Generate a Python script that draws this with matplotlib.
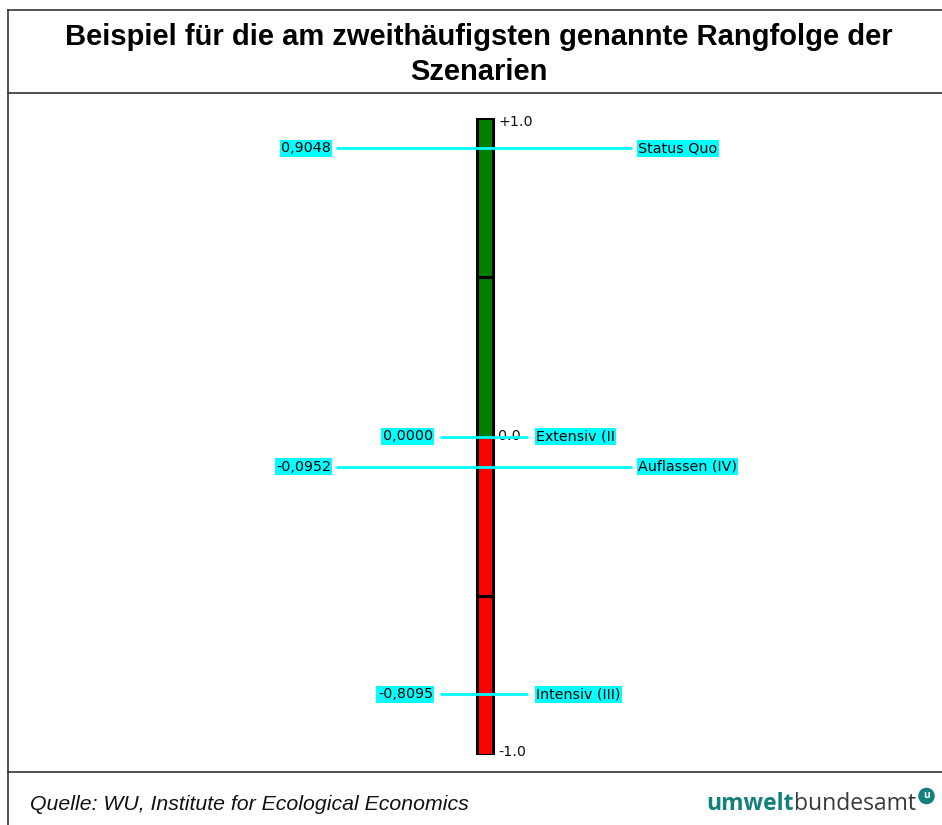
import matplotlib
matplotlib.use("Agg")
import matplotlib.pyplot as plt
from matplotlib.transforms import IdentityTransform

# ---- data ----
title = "Beispiel für die am zweithäufigsten genannte Rangfolge der\nSzenarien"
scenarios = ["Status Quo", "Extensiv (II", "Auflassen (IV)", "Intensiv (III)"]
values = [0.9048, 0.0000, -0.0952, -0.8095]
value_labels = ["0,9048", "0,0000", "-0,0952", "-0,8095"]
scale_ticks = [1.0, 0.0, -1.0]
scale_labels = ["+1.0", "0.0", "-1.0"]
segment_bounds = [-1.0, -0.5, 0.0, 0.5, 1.0]
segment_colors = ["#ff0000", "#ff0000", "#007f00", "#007f00"]
source = "Quelle: WU, Institute for Ecological Economics"

W, H = 942, 825
fig = plt.figure(figsize=(W / 100, H / 100), dpi=100)
fig.patch.set_facecolor("white")

# decoration axes in pixel coordinates
deco = fig.add_axes([0, 0, 1, 1])
deco.set_xlim(0, W)
deco.set_ylim(H, 0)
deco.axis("off")
lc = "#333333"
deco.plot([7.5, W], [9.5, 9.5], color=lc, lw=1.2)
deco.plot([7.5, W], [92.5, 92.5], color=lc, lw=1.2)
deco.plot([7.5, W], [771.5, 771.5], color=lc, lw=1.2)
deco.plot([7.5, 7.5], [9.5, H], color=lc, lw=1.2)

deco.text(479, 54.5, title, ha="center", va="center", fontsize=21,
          fontweight="bold", family="Liberation Sans", linespacing=1.32)
deco.text(30, 805, source, ha="left", va="center", fontsize=15.3,
          style="italic", family="Liberation Sans", color="#111111")

teal = "#13807d"
t1 = deco.text(706, 804, "umwelt", ha="left", va="center", fontsize=16.5,
               fontweight="bold", family="Open Sans", color=teal)
fig.canvas.draw()
bb = t1.get_window_extent()
t2 = deco.text(0, 0, "bundesamt", ha="left", va="center", fontsize=16.5,
               family="Open Sans", color="#3a3a3a", transform=IdentityTransform())
t2.set_position((bb.x1, bb.y0 + bb.height / 2))
fig.canvas.draw()
bb2 = t2.get_window_extent()
deco.text(bb2.x1 + 11, H - 796, "u", ha="center", va="center", fontsize=7.5,
          fontweight="bold", family="Open Sans", color="white",
          transform=IdentityTransform(),
          bbox=dict(boxstyle="circle,pad=0.2", fc=teal, ec=teal))

# chart axes: y from -1 (px 755) to +1 (px 118)
ax = fig.add_axes([0, (H - 755) / H, 1, (755 - 118) / H])
ax.set_xlim(0, W)
ax.set_ylim(-1, 1)
ax.axis("off")

for i, c in enumerate(segment_colors):
    ax.bar(485, segment_bounds[i + 1] - segment_bounds[i], bottom=segment_bounds[i],
           width=16.5, color=c, edgecolor="black", linewidth=2.2, zorder=2)

for v, lab in zip(scale_ticks, scale_labels):
    off = -0.013 if v > 0 else (0.01 if v < 0 else 0)
    ax.text(498, v + off, lab, ha="left", va="center", fontsize=10.3,
            family="DejaVu Sans", color="#111111", zorder=3)

cyan = "#00ffff"
box = dict(boxstyle="square,pad=0.1", fc=cyan, ec="none")
for i, (name, v, vl) in enumerate(zip(scenarios, values, value_labels)):
    if i % 2 == 0:
        x0, x1, lx, rx = 336, 632, 331, 638
    else:
        x0, x1, lx, rx = 440, 528, 433, 536
    ax.plot([x0, x1], [v, v], color=cyan, lw=2, zorder=4, solid_capstyle="butt")
    ax.text(lx, v, vl, ha="right", va="center", fontsize=10.3,
            family="DejaVu Sans", color="black", bbox=box, zorder=5)
    ax.text(rx, v, name, ha="left", va="center", fontsize=10.3,
            family="DejaVu Sans", color="black", bbox=box, zorder=5)

fig.savefig("out.png", dpi=100)
